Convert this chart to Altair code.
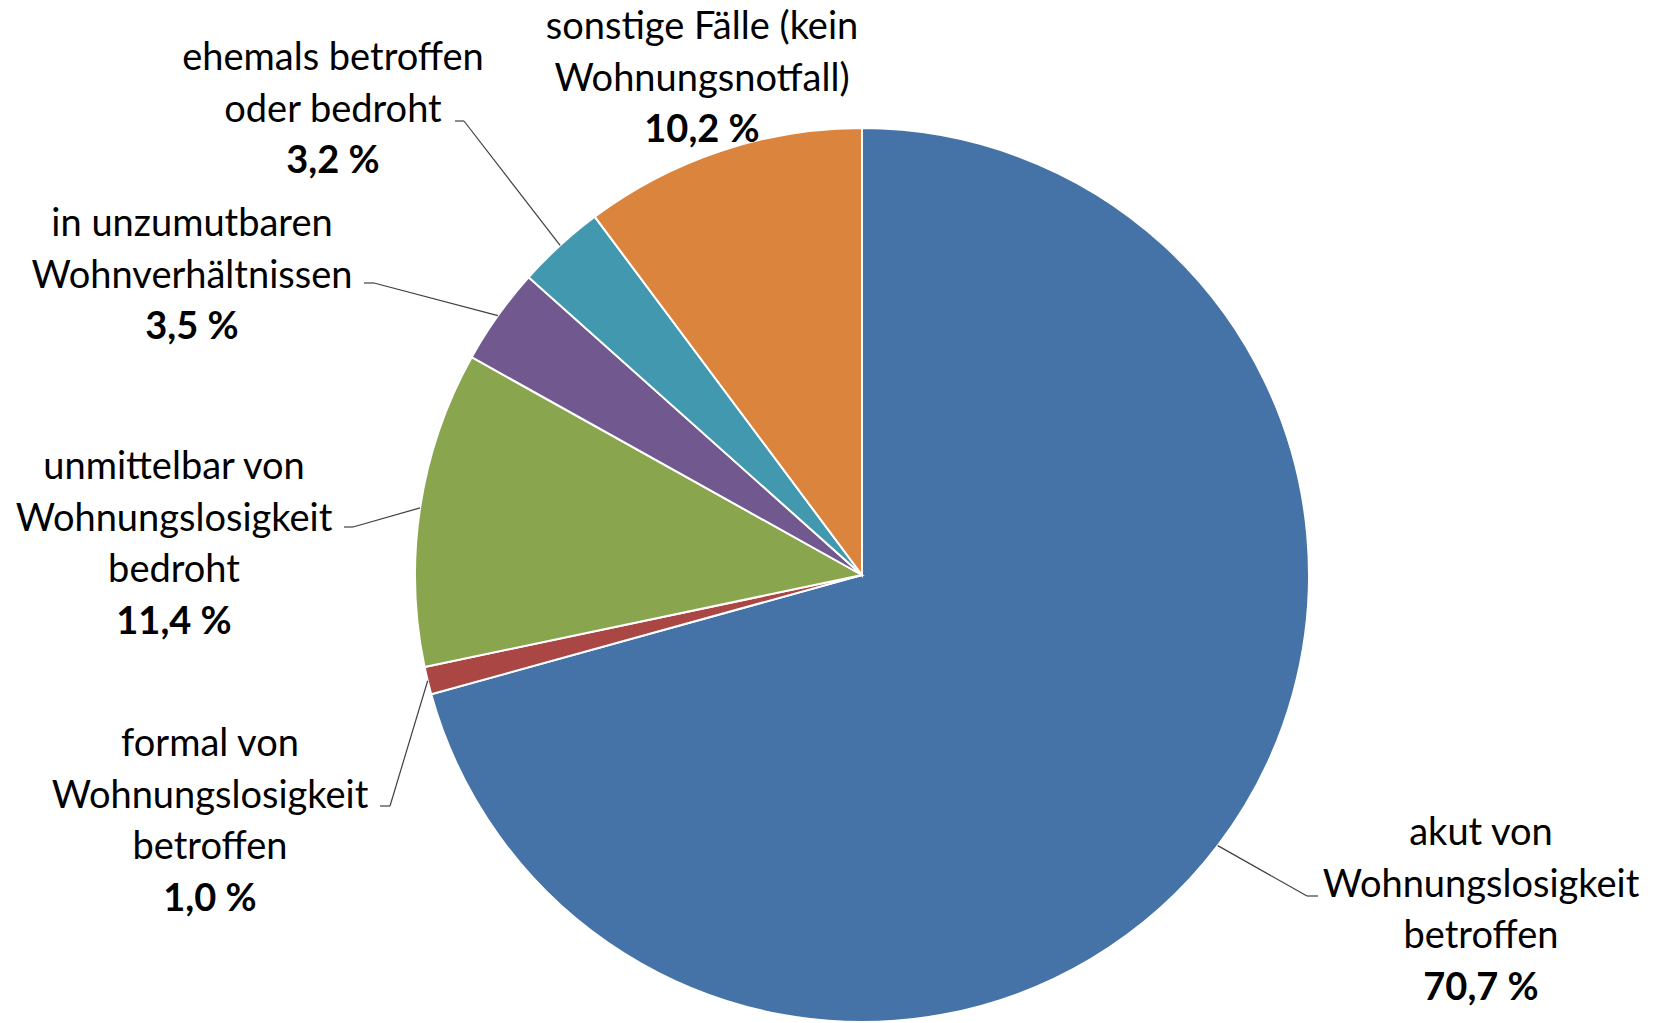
import altair as alt
import pandas as pd

# ---- data ----
categories = [
    "akut von Wohnungslosigkeit betroffen",
    "formal von Wohnungslosigkeit betroffen",
    "unmittelbar von Wohnungslosigkeit bedroht",
    "in unzumutbaren Wohnverhältnissen",
    "ehemals betroffen oder bedroht",
    "sonstige Fälle (kein Wohnungsnotfall)",
]
values = [70.7, 1.0, 11.4, 3.5, 3.2, 10.2]
label_lines = [
    ["akut von", "Wohnungslosigkeit", "betroffen"],
    ["formal von", "Wohnungslosigkeit", "betroffen"],
    ["unmittelbar von", "Wohnungslosigkeit", "bedroht"],
    ["in unzumutbaren", "Wohnverhältnissen"],
    ["ehemals betroffen", "oder bedroht"],
    ["sonstige Fälle (kein", "Wohnungsnotfall)"],
]
colors = ["#4572A7", "#AA4643", "#89A54E", "#71588F", "#4198AF", "#DB843D"]

# ---- layout ----
W, H = 1653, 1023
CX, CY, R = 862, 575, 447
FONT = "Lato"
FS = 38
LH = 51.5
label_cx = [1481, 210, 174, 192, 333, 702]
label_y0 = [834, 745, 468, 225, 59, 28]
# leader: elbow point (joins slice) and end point (next to text); None = no leader
leader_elbow = [(1307, 896), (390, 806), (353, 527), (374, 283), (464, 121), None]
leader_end = [(1318, 896), (380, 806), (344, 527), (364, 283), (455, 121), None]

df = pd.DataFrame({"cat": categories, "value": values, "idx": list(range(len(values)))})

text_rows = []
for i, lines in enumerate(label_lines):
    for j, ln in enumerate(lines):
        text_rows.append({"px": label_cx[i], "py": label_y0[i] + j * LH, "t": ln, "bold": 0})
    pct = f"{values[i]:.1f} %".replace(".", ",")
    text_rows.append({"px": label_cx[i], "py": label_y0[i] + len(lines) * LH, "t": pct, "bold": 1})
tdf = pd.DataFrame(text_rows)

lead = pd.DataFrame({
    "cat": categories,
    "value": values,
    "idx": list(range(len(values))),
    "ex": [e[0] if e else None for e in leader_elbow],
    "ey": [e[1] if e else None for e in leader_elbow],
    "tx": [e[0] if e else None for e in leader_end],
    "ty": [e[1] if e else None for e in leader_end],
})

pie = alt.Chart(df).mark_arc(outerRadius=R, stroke="white", strokeWidth=2).encode(
    theta=alt.Theta("value:Q", stack=True),
    color=alt.Color("cat:N", scale=alt.Scale(domain=categories, range=colors), legend=None),
    order=alt.Order("idx:Q"),
    x=alt.value(CX),
    y=alt.value(CY),
)

base_lead = alt.Chart(lead).transform_window(
    cum="sum(value)", sort=[alt.SortField("idx")], frame=[None, 0]
).transform_joinaggregate(total="sum(value)").transform_calculate(
    ang="2*PI*(datum.cum - datum.value/2)/datum.total",
    sx=f"{CX} + {R}*sin(datum.ang)",
    sy=f"{CY} - {R}*cos(datum.ang)",
).transform_filter("datum.ex != null")

rule1 = base_lead.mark_rule(color="#404040", strokeWidth=1.2).encode(
    x=alt.X("sx:Q", scale=None, axis=None),
    y=alt.Y("sy:Q", scale=None, axis=None),
    x2="ex:Q",
    y2="ey:Q",
)
rule2 = base_lead.mark_rule(color="#404040", strokeWidth=1.2).encode(
    x=alt.X("ex:Q", scale=None, axis=None),
    y=alt.Y("ey:Q", scale=None, axis=None),
    x2="tx:Q",
    y2="ty:Q",
)

txt_norm = alt.Chart(tdf).transform_filter("datum.bold == 0").mark_text(
    font=FONT, fontSize=FS, color="black", align="center", baseline="middle"
).encode(
    x=alt.X("px:Q", scale=None, axis=None),
    y=alt.Y("py:Q", scale=None, axis=None),
    text="t:N",
)
txt_bold = alt.Chart(tdf).transform_filter("datum.bold == 1").mark_text(
    font=FONT, fontSize=FS, fontWeight="bold", color="black", align="center", baseline="middle"
).encode(
    x=alt.X("px:Q", scale=None, axis=None),
    y=alt.Y("py:Q", scale=None, axis=None),
    text="t:N",
)

chart = alt.layer(pie, rule1, rule2, txt_norm, txt_bold).properties(
    width=W, height=H, autosize=alt.AutoSizeParams(type="none"), padding=0,
    background="white",
).configure_view(stroke=None)

chart.save("out.html", embed_options={"renderer": "svg", "actions": False})
